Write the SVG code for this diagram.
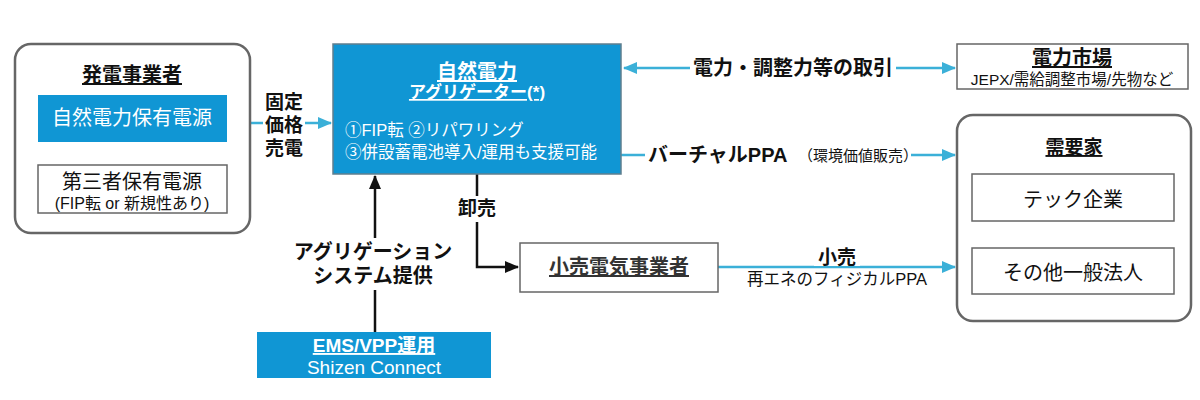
<svg xmlns="http://www.w3.org/2000/svg" width="1200" height="400" viewBox="0 0 1200 400">
<defs>
<style>
text{font-family:"Liberation Sans","Noto Sans CJK JP",sans-serif;}
.b{font-weight:bold;}
.u{text-decoration:underline;}
.blue{fill:#1096d4;stroke:#5f7f8f;stroke-width:1.5;}
.box{fill:#fff;stroke:#666;stroke-width:1.5;}
.outer{fill:#fff;stroke:#666;stroke-width:2.5;}
.bl{stroke:#3bb0d8;stroke-width:2.5;fill:none;}
.bk{stroke:#111;stroke-width:2.5;fill:none;}
.w{fill:#fff;}
.k{fill:#111;}
</style>
<marker id="ab" markerWidth="14" markerHeight="12" refX="13" refY="6" orient="auto-start-reverse" markerUnits="userSpaceOnUse"><path d="M0,0 L14,6 L0,12 Z" fill="#3bb0d8"/></marker>
<marker id="ak" markerWidth="14" markerHeight="12" refX="13" refY="6" orient="auto-start-reverse" markerUnits="userSpaceOnUse"><path d="M0,0 L14,6 L0,12 Z" fill="#111"/></marker>
</defs>
<rect width="1200" height="400" fill="#fff"/>

<g id="connectors">
<line class="bl" x1="250" y1="123" x2="331" y2="123" marker-end="url(#ab)"/>
<line class="bl" x1="624" y1="68" x2="955" y2="68" marker-start="url(#ab)" marker-end="url(#ab)"/>
<line class="bl" x1="621" y1="155" x2="955" y2="155" marker-end="url(#ab)"/>
<line class="bl" x1="718" y1="267" x2="955" y2="267" marker-end="url(#ab)"/>
<polyline class="bk" points="477,174 477,267 518,267" marker-end="url(#ak)"/>
<line class="bk" x1="375" y1="332" x2="375" y2="176" marker-end="url(#ak)"/>
<rect x="263" y="90" width="42" height="70" fill="#fff"/>
<rect x="690" y="55" width="206" height="26" fill="#fff"/>
<rect x="645" y="142" width="266" height="26" fill="#fff"/>
<rect x="456" y="196" width="42" height="26" fill="#fff"/>
<rect x="288" y="238" width="172" height="52" fill="#fff"/>
<rect x="814" y="246" width="46" height="20" fill="#fff"/>
<text class="b k" x="284" y="109" font-size="19" text-anchor="middle">固定</text>
<text class="b k" x="284" y="132" font-size="19" text-anchor="middle">価格</text>
<text class="b k" x="284" y="155" font-size="19" text-anchor="middle">売電</text>
<text class="b k" x="793" y="75" font-size="20" text-anchor="middle">電力・調整力等の取引</text>
<text class="b k" x="648" y="162" font-size="20">バーチャルPPA</text>
<text class="k" x="798" y="161" font-size="15">（環境価値販売）</text>
<text class="b k" x="477" y="215" font-size="19" text-anchor="middle">卸売</text>
<text class="b k" x="373" y="259" font-size="20" text-anchor="middle">アグリゲーション</text>
<text class="b k" x="373" y="283" font-size="20" text-anchor="middle">システム提供</text>
<text class="b k" x="837" y="264" font-size="19" text-anchor="middle">小売</text>
<text class="k" x="837" y="285" font-size="16.5" text-anchor="middle">再エネのフィジカルPPA</text>
</g>

<g id="hatsuden">
<rect class="outer" x="15" y="44" width="235" height="189" rx="16"/>
<text class="b u k" x="132" y="82" font-size="20" text-anchor="middle">発電事業者</text>
<rect x="38" y="95" width="189" height="47" fill="#1096d4"/>
<text class="w" x="132" y="125" font-size="20" text-anchor="middle">自然電力保有電源</text>
<rect class="box" x="38" y="165" width="189" height="48"/>
<text class="k" x="132" y="189" font-size="20" text-anchor="middle">第三者保有電源</text>
<text class="k" x="132" y="209" font-size="16" text-anchor="middle">(FIP転 or 新規性あり)</text>
</g>

<g id="aggregator">
<rect class="blue" x="333" y="44" width="288" height="130"/>
<text class="b u w" x="477" y="79" font-size="20" text-anchor="middle">自然電力</text>
<text class="b u w" x="477" y="98" font-size="17" text-anchor="middle">アグリゲーター(*)</text>
<text class="w" x="345" y="136" font-size="16.5">①FIP転 ②リパワリング</text>
<text class="w" x="345" y="158" font-size="16.5">③併設蓄電池導入/運用も支援可能</text>
</g>

<g id="market">
<rect class="box" x="957" y="44" width="231" height="45"/>
<text class="b u k" x="1072" y="65" font-size="20" text-anchor="middle">電力市場</text>
<text class="k" x="1072" y="85" font-size="15.5" text-anchor="middle">JEPX/需給調整市場/先物など</text>
</g>

<g id="demand">
<rect class="outer" x="957" y="115" width="234" height="206" rx="16"/>
<text class="b u k" x="1074" y="154" font-size="19" text-anchor="middle">需要家</text>
<rect class="box" x="972" y="174" width="202" height="47"/>
<text class="k" x="1073" y="207" font-size="20" text-anchor="middle">テック企業</text>
<rect class="box" x="972" y="248" width="202" height="46"/>
<text class="k" x="1073" y="280" font-size="20" text-anchor="middle">その他一般法人</text>
</g>

<g id="retailer">
<rect class="box" x="520" y="243" width="198" height="49"/>
<text class="b u" x="619" y="274" font-size="20" text-anchor="middle" fill="#333">小売電気事業者</text>
</g>

<g id="ems">
<rect x="257" y="332" width="234" height="46" fill="#1096d4"/>
<text class="b u w" x="374" y="352" font-size="19" text-anchor="middle">EMS/VPP運用</text>
<text class="w" x="374" y="374" font-size="19" text-anchor="middle">Shizen Connect</text>
</g>
</svg>
